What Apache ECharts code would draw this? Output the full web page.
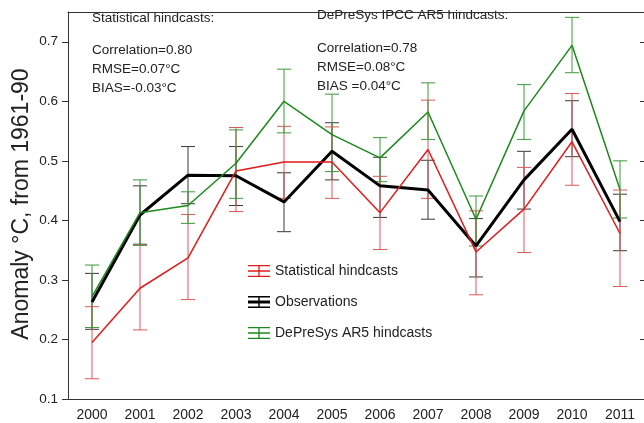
<!DOCTYPE html>
<html>
<head>
<meta charset="utf-8">
<script src="https://cdn.jsdelivr.net/npm/echarts@6/dist/echarts.min.js"></script>
<style>
html,body{margin:0;padding:0;background:#fff;}
#chart{width:644px;height:423px;}
</style>
</head>
<body>
<div id="chart"></div>
<script>
const years = ['2000','2001','2002','2003','2004','2005','2006','2007','2008','2009','2010','2011'];
const yTicks = [0.1,0.2,0.3,0.4,0.5,0.6,0.7];

const obs     = [0.263,0.409,0.476,0.475,0.431,0.516,0.458,0.451,0.357,0.468,0.553,0.398];
const obsLow  = [0.217,0.360,0.428,0.425,0.381,0.468,0.405,0.402,0.305,0.419,0.507,0.349];
const obsHigh = [0.311,0.458,0.524,0.524,0.480,0.564,0.506,0.501,0.403,0.516,0.601,0.444];

const stat     = [0.195,0.286,0.337,0.483,0.498,0.498,0.413,0.519,0.347,0.419,0.532,0.378];
const statLow  = [0.134,0.216,0.267,0.415,0.437,0.437,0.351,0.437,0.275,0.346,0.459,0.289];
const statHigh = [0.255,0.359,0.410,0.556,0.558,0.557,0.474,0.602,0.416,0.489,0.613,0.451];

const dps     = [0.272,0.413,0.425,0.496,0.600,0.544,0.505,0.582,0.402,0.584,0.694,0.452];
const dpsLow  = [0.220,0.358,0.395,0.437,0.547,0.482,0.465,0.536,0.357,0.536,0.648,0.404];
const dpsHigh = [0.325,0.468,0.448,0.552,0.654,0.612,0.539,0.631,0.441,0.628,0.741,0.500];

const FONT = "'Liberation Sans', Arial, sans-serif";
const RED = '#e41a1a', RED_BAR = '#e25555';
const GREEN = '#1a8a1a', GREEN_BAR = '#3a9a3a';
const BLACK = '#000000', BLACK_BAR = '#3a3a3a';

function errSeries(name, low, high, color, z) {
  return {
    type: 'custom', name: name, z: z, silent: true,
    renderItem: function (params, api) {
      const i = api.value(0);
      const lo = api.coord([i, api.value(1)]);
      const hi = api.coord([i, api.value(2)]);
      const hw = 7;
      const st = {stroke: color, lineWidth: 1, fill: null};
      return {type: 'group', children: [
        {type: 'line', shape: {x1: lo[0], y1: lo[1], x2: hi[0], y2: hi[1]}, style: st},
        {type: 'line', shape: {x1: lo[0]-hw, y1: lo[1], x2: lo[0]+hw, y2: lo[1]}, style: st},
        {type: 'line', shape: {x1: hi[0]-hw, y1: hi[1], x2: hi[0]+hw, y2: hi[1]}, style: st}
      ]};
    },
    encode: {x: 0, y: [1, 2]},
    data: years.map((y, k) => [k, low[k], high[k]])
  };
}

const iconThin = 'path://M0,0h22v1.3h-22z M0,5.35h22v1.3h-22z M0,10.7h22v1.3h-22z M10.35,0h1.3v12h-1.3z';
const iconThick = 'path://M0,0h22v1.4h-22z M0,4.6h22v2.8h-22z M0,10.6h22v1.4h-22z M10.3,0h1.4v12h-1.4z';

const chart = echarts.init(document.getElementById('chart'), null, {renderer: 'canvas'});
chart.setOption({
  animation: false,
  backgroundColor: '#fff',
  grid: {left: 68, top: 12, width: 578, height: 387, containLabel: false},
  xAxis: [{
    type: 'category', data: years, boundaryGap: true, position: 'bottom',
    axisLine: {lineStyle: {color: '#333', width: 1}},
    axisTick: {inside: true, length: 4, lineStyle: {color: '#333'}},
    axisLabel: {color: '#222', fontSize: 14, fontFamily: FONT, margin: 9},
    splitLine: {show: false}
  }, {
    type: 'category', data: years, boundaryGap: true, position: 'top',
    axisLine: {lineStyle: {color: '#333', width: 1}},
    axisTick: {inside: true, length: 4, lineStyle: {color: '#333'}},
    axisLabel: {show: false}, splitLine: {show: false}
  }],
  yAxis: [{
    type: 'value', min: 0.1, max: 0.75, interval: 0.1, position: 'left',
    axisLine: {show: true, lineStyle: {color: '#333', width: 1}},
    axisTick: {show: true, inside: false, length: 6, customValues: yTicks, lineStyle: {color: '#333'}},
    axisLabel: {color: '#222', fontSize: 13.5, fontFamily: FONT, margin: 10, customValues: yTicks,
      formatter: function (v) { return Number(v).toFixed(1); }},
    splitLine: {show: false}
  }, {
    type: 'value', min: 0.1, max: 0.75, interval: 0.1, position: 'right',
    axisLine: {show: true, lineStyle: {color: '#333', width: 1}},
    axisTick: {show: true, inside: true, length: 4, customValues: yTicks, lineStyle: {color: '#333'}},
    axisLabel: {show: false}, splitLine: {show: false}
  }],
  legend: {
    orient: 'vertical', left: 243, top: 259, itemGap: 17,
    itemWidth: 22, itemHeight: 12,
    itemStyle: {borderWidth: 0},
    textStyle: {color: '#222', fontSize: 14, fontFamily: FONT},
    data: [
      {name: 'Statistical hindcasts', icon: iconThin},
      {name: 'Observations', icon: iconThick},
      {name: 'DePreSys AR5 hindcasts', icon: iconThin}
    ]
  },
  graphic: [
    {type: 'text', x: 22, y: 204, rotation: Math.PI / 2,
      style: {text: 'Anomaly \u00b0C, from 1961-90', fontSize: 23, fontFamily: FONT, fill: '#222', align: 'center', verticalAlign: 'middle'}},
    {type: 'text', x: 92, y: 18,
      style: {text: 'Statistical hindcasts:', fontSize: 13.5, fontFamily: FONT, fill: '#222', align: 'left', verticalAlign: 'middle'}},
    {type: 'text', x: 92, y: 50,
      style: {text: 'Correlation=0.80', fontSize: 13.5, fontFamily: FONT, fill: '#222', align: 'left', verticalAlign: 'middle'}},
    {type: 'text', x: 92, y: 69,
      style: {text: 'RMSE=0.07\u00b0C', fontSize: 13.5, fontFamily: FONT, fill: '#222', align: 'left', verticalAlign: 'middle'}},
    {type: 'text', x: 92, y: 88,
      style: {text: 'BIAS=-0.03\u00b0C', fontSize: 13.5, fontFamily: FONT, fill: '#222', align: 'left', verticalAlign: 'middle'}},
    {type: 'text', x: 317, y: 15,
      style: {text: 'DePreSys IPCC AR5 hindcasts:', fontSize: 13.5, fontFamily: FONT, fill: '#222', align: 'left', verticalAlign: 'middle'}},
    {type: 'text', x: 317, y: 48,
      style: {text: 'Correlation=0.78', fontSize: 13.5, fontFamily: FONT, fill: '#222', align: 'left', verticalAlign: 'middle'}},
    {type: 'text', x: 317, y: 67,
      style: {text: 'RMSE=0.08\u00b0C', fontSize: 13.5, fontFamily: FONT, fill: '#222', align: 'left', verticalAlign: 'middle'}},
    {type: 'text', x: 317, y: 86,
      style: {text: 'BIAS =0.04\u00b0C', fontSize: 13.5, fontFamily: FONT, fill: '#222', align: 'left', verticalAlign: 'middle'}}
  ],
  series: [
    errSeries('obs-err', obsLow, obsHigh, BLACK_BAR, 2),
    errSeries('stat-err', statLow, statHigh, RED_BAR, 2),
    errSeries('dps-err', dpsLow, dpsHigh, GREEN_BAR, 2),
    {type: 'line', name: 'Observations', data: obs, symbol: 'none', z: 3,
      color: BLACK, lineStyle: {color: BLACK, width: 3}, itemStyle: {color: BLACK}},
    {type: 'line', name: 'Statistical hindcasts', data: stat, symbol: 'none', z: 4,
      color: RED, lineStyle: {color: RED, width: 1.5}, itemStyle: {color: RED}},
    {type: 'line', name: 'DePreSys AR5 hindcasts', data: dps, symbol: 'none', z: 5,
      color: GREEN, lineStyle: {color: GREEN, width: 1.5}, itemStyle: {color: GREEN}}
  ]
});
</script>
</body>
</html>
